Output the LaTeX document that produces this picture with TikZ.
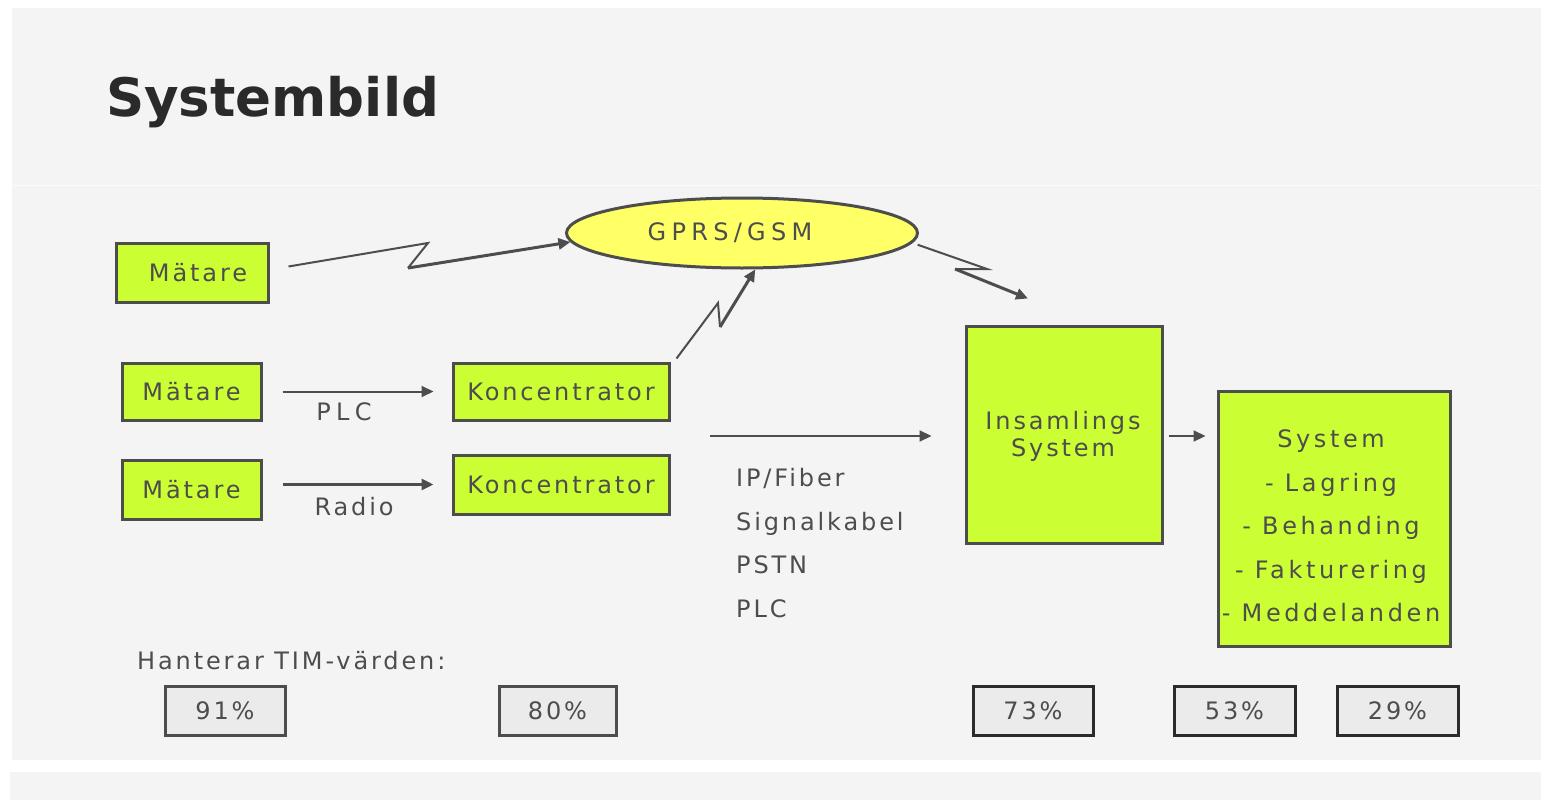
\documentclass[tikz,border=0pt]{standalone}
\usepackage{fontspec}
\setmainfont{DejaVu Sans}[LetterSpace=12]
\newfontfamily\titlefont{DejaVu Sans}
\newfontfamily\widefont{DejaVu Sans}[LetterSpace=22]
\newfontfamily\midfont{DejaVu Sans}[LetterSpace=15]
\usetikzlibrary{arrows.meta,shapes.geometric}
\definecolor{bgc}{HTML}{F4F4F4}
\definecolor{greenc}{HTML}{CCFF33}
\definecolor{yellowc}{HTML}{FFFF66}
\definecolor{linec}{HTML}{4D4D4D}
\definecolor{pctc}{HTML}{EBEBEB}
\definecolor{titlec}{HTML}{2A2A2A}
\definecolor{darkc}{HTML}{2B2B2B}
\newcommand\fs{\fontsize{24}{27}\selectfont}
\tikzset{
  box/.style={draw=linec, line width=3pt, fill=greenc, inner sep=0pt, text=linec, font=\fs},
  pct/.style={draw=linec, line width=3pt, fill=pctc, inner sep=0pt, text=linec, font=\fs, minimum height=49pt},
  pctd/.style={pct, draw=darkc},
  lbl/.style={text=linec, font=\fs, inner sep=0pt},
  thinl/.style={draw=linec, line width=2pt},
  thickl/.style={draw=linec, line width=3pt},
  arr/.style={-{Triangle[length=12pt,width=11pt]}},
}
\begin{document}
\begin{tikzpicture}[x=1pt,y=-1pt]
\useasboundingbox (0,0) rectangle (1541,800);
\fill[white] (0,0) rectangle (1541,800);
\fill[bgc] (12,8) rectangle (1541,760);
\fill[bgc] (10,772) rectangle (1541,800);
\draw[white!60!bgc, line width=1pt] (12,185) -- (1541,185);

% title
\node[anchor=base west, inner sep=0pt, text=titlec, font=\titlefont\bfseries\fontsize{53}{60}\selectfont] (title) at (106,116) {Systembild};

% nodes
\node[box, minimum width=152pt, minimum height=59pt] (m1) at (192,272.5) {\hspace*{12pt}Mätare};
\node[box, minimum width=139pt, minimum height=57pt] (m2) at (191.5,391.5) {Mätare};
\node[box, minimum width=139pt, minimum height=59pt] (m3) at (191.5,489.5) {Mätare};
\node[box, minimum width=216pt, minimum height=57pt] (k1) at (561,391.5) {Koncentrator};
\node[box, minimum width=216pt, minimum height=59pt] (k2) at (561,484.5) {Koncentrator};
\node[ellipse, draw=linec, line width=3pt, fill=yellowc, minimum width=351pt, minimum height=70pt, inner sep=0pt] (gprs) at (742,233) {};
\node[lbl, font=\widefont\fs] (gprsT) at (730,233) {GPRS/GSM};
\node[box, minimum width=196pt, minimum height=217pt] (ins) at (1064,434.5) {};
\node[lbl, align=center] (insT) at (1063,436) {Insamlings\\System};
\node[box, minimum width=232pt, minimum height=255pt] (sys) at (1334,518.5) {};
\node[lbl, align=center, font=\midfont\fontsize{24}{43.5}\selectfont] (sysT) at (1331,526) {System\\- Lagring\\- Behanding\\- Fakturering\\- Meddelanden};

% labels
\node[lbl, font=\widefont\fs] (plc) at (344,412) {PLC};
\node[lbl] (radio) at (354,507) {Radio};
\node[lbl, anchor=west, align=left, font=\fontsize{24}{43.5}\selectfont] (media) at (736,543) {IP/Fiber\\Signalkabel\\PSTN\\PLC};
\node[lbl, anchor=west] (hant) at (137,661) {Hanterar TIM-värden:};

% percentage boxes
\node[pct, minimum width=120pt] (p1) at (225,710.5) {91\%};
\node[pct, minimum width=117pt] (p2) at (557.5,710.5) {80\%};
\node[pctd, minimum width=120pt] (p3) at (1033,711) {73\%};
\node[pctd, minimum width=121pt] (p4) at (1234.5,711) {53\%};
\node[pctd, minimum width=121pt] (p5) at (1397.5,711) {29\%};

% connectors
\coordinate (z1a) at (428,243);
\coordinate (z1b) at (408,268);
\draw[thinl] ([shift={(19,-6)}]m1.east) -- (z1a) -- (z1b);
\draw[thickl, arr] (z1b) -- (gprs.183);

\coordinate (z2a) at (718,303);
\coordinate (z2b) at (720,327);
\draw[thinl] ([shift={(6,-3)}]k1.north east) -- (z2a) -- (z2b);
\draw[thickl, arr] (z2b) -- (gprs.-70);

\coordinate (z3a) at (987,269);
\coordinate (z3b) at (955,269);
\coordinate (z3e) at ([shift={(-36,-26)}]ins.north);
\draw[thinl] ([xshift=8pt]gprs.-4) -- (z3a) -- (z3b);
\draw[thickl, arr] (z3b) -- (z3e);

\draw[thinl, arr] ([xshift=20pt]m2.east) -- ([xshift=-18pt]k1.west);
\draw[thickl, arr] ([xshift=20pt]m3.east |- k2.west) -- ([xshift=-18pt]k2.west);
\coordinate (ipS) at (710,436);
\draw[thinl, arr] (ipS) -- ([xshift=-33pt]ins.west |- ipS);
\draw[thinl, arr] ([xshift=5pt]ins.east |- ipS) -- ([xshift=-11pt]sys.west |- ipS);
\end{tikzpicture}
\end{document}
